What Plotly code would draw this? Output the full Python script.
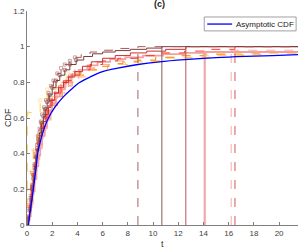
import plotly.graph_objects as go

# ---------------- data ----------------
x_max = 21.5
x_ticks = [0, 2, 4, 6, 8, 10, 12, 14, 16, 18, 20]
y_ticks = [0, 0.2, 0.4, 0.6, 0.8, 1.0, 1.2]
y_tick_labels = ["0", "0.2", "0.4", "0.6", "0.8", "1", "1.2"]

# asymptotic CDF
asym_t = [0.1, 0.3, 0.5, 0.7, 0.85, 1.1, 1.4, 1.7, 2.2, 2.9, 3.5, 4.2, 5.0, 6.0, 7.2, 8.8, 10.5, 12.5, 15, 17.3, 19.5, 21.5]
asym_F = [0, 0.1, 0.2, 0.31, 0.4, 0.48, 0.55, 0.6, 0.66, 0.72, 0.76, 0.8, 0.83, 0.86, 0.88, 0.9, 0.915, 0.927, 0.938, 0.945, 0.95, 0.955]

# empirical CDFs (step curves)
c1_t = [0, 0.1, 0.2, 0.3, 0.4, 0.5, 0.6, 0.7, 0.8, 0.9, 1.0, 1.15, 1.3, 1.45, 1.6, 1.8, 2.0, 2.3, 2.6, 3.0, 3.4, 3.9, 4.5, 5.2, 6.0, 7.0, 8.2, 9.5, 10.7]
c1_F = [0, 0.03, 0.08, 0.14, 0.2, 0.26, 0.32, 0.38, 0.43, 0.48, 0.52, 0.57, 0.61, 0.65, 0.69, 0.73, 0.77, 0.81, 0.84, 0.87, 0.9, 0.925, 0.945, 0.96, 0.97, 0.978, 0.985, 0.992, 1.0]

c2_t = [0, 0.1, 0.2, 0.3, 0.4, 0.5, 0.6, 0.7, 0.8, 0.9, 1.0, 1.1, 1.2, 1.35, 1.5, 1.7, 1.9, 2.1, 2.4, 2.7, 3.0, 3.4, 3.8, 4.3, 5.0, 5.8, 6.8, 8.8]
c2_F = [0, 0.04, 0.09, 0.15, 0.21, 0.28, 0.34, 0.4, 0.45, 0.5, 0.54, 0.58, 0.62, 0.66, 0.7, 0.74, 0.78, 0.81, 0.85, 0.88, 0.9, 0.92, 0.94, 0.955, 0.97, 0.98, 0.99, 1.0]

c3_t = [0, 0.1, 0.2, 0.3, 0.4, 0.5, 0.6, 0.7, 0.8, 0.9, 1.0, 1.15, 1.3, 1.5, 1.7, 1.9, 2.2, 2.5, 2.9, 3.3, 3.8, 4.4, 5.1, 6.0, 7.0, 8.2, 9.5, 11.0, 12.6]
c3_F = [0, 0.04, 0.1, 0.16, 0.22, 0.28, 0.33, 0.38, 0.42, 0.46, 0.5, 0.54, 0.58, 0.62, 0.66, 0.7, 0.74, 0.77, 0.8, 0.83, 0.86, 0.89, 0.915, 0.935, 0.95, 0.965, 0.975, 0.985, 1.0]

c4_t = [0, 0.15, 0.3, 0.45, 0.6, 0.75, 0.9, 1.05, 1.2, 1.4, 1.6, 1.8, 2.0, 2.3, 2.6, 3.0, 3.5, 4.1, 4.8, 5.6, 6.6, 7.8, 9.2, 10.8, 12.5, 14.1]
c4_F = [0, 0.05, 0.12, 0.19, 0.26, 0.33, 0.39, 0.45, 0.5, 0.55, 0.6, 0.64, 0.68, 0.72, 0.76, 0.8, 0.84, 0.87, 0.895, 0.915, 0.93, 0.94, 0.95, 0.958, 0.965, 0.97]

c5_t = [0, 0.1, 0.25, 0.4, 0.55, 0.7, 0.85, 1.0, 1.2, 1.4, 1.6, 1.9, 2.2, 2.6, 3.0, 3.5, 4.1, 4.8, 5.6, 6.6, 7.8, 9.2, 10.8, 12.6, 14.4, 16.2]
c5_F = [0, 0.04, 0.1, 0.17, 0.24, 0.31, 0.37, 0.43, 0.49, 0.54, 0.59, 0.64, 0.69, 0.74, 0.78, 0.82, 0.855, 0.88, 0.9, 0.92, 0.935, 0.948, 0.958, 0.966, 0.973, 0.98]

c6_t = [0, 0.1, 0.2, 0.3, 0.4, 0.5, 0.6, 0.7, 0.8, 0.9, 1.0, 1.2, 1.4, 1.6, 1.8, 2.0, 2.3, 2.7, 3.1, 3.6, 4.2, 5.0, 6.0, 7.2, 8.8, 10.5, 12.5, 14.5, 16.5]
c6_F = [0, 0.05, 0.11, 0.17, 0.23, 0.29, 0.34, 0.38, 0.42, 0.46, 0.5, 0.55, 0.6, 0.64, 0.67, 0.7, 0.74, 0.78, 0.81, 0.84, 0.87, 0.9, 0.92, 0.935, 0.95, 0.965, 0.975, 0.985, 1.0]

c7_t = [0, 0.1, 0.2, 0.35, 0.5, 0.65, 0.8, 1.0, 1.2, 1.4, 1.7, 2.0, 2.4, 2.8, 3.3, 3.9, 4.6, 5.5, 6.5, 7.6, 8.8, 10.2, 12.0, 14.0, 16.5, 19.0]
c7_F = [0, 0.05, 0.12, 0.2, 0.28, 0.35, 0.41, 0.47, 0.52, 0.57, 0.62, 0.67, 0.72, 0.76, 0.8, 0.84, 0.87, 0.89, 0.905, 0.915, 0.925, 0.94, 0.95, 0.958, 0.965, 0.97]

c8_t = [0, 0.03, 1.05, 1.6, 2.3, 3.2, 4.3, 5.8, 7.8, 10.5, 14, 18]
c8_F = [0, 0.63, 0.7, 0.76, 0.81, 0.85, 0.88, 0.9, 0.915, 0.935, 0.95, 0.962]

c9_t = [0, 0.02, 0.3, 0.5, 0.8, 1.1, 1.5, 2.0, 2.7, 3.6, 4.8, 6.4, 8.5, 11, 14.5, 19]
c9_F = [0, 0.2, 0.3, 0.42, 0.5, 0.58, 0.65, 0.72, 0.78, 0.83, 0.87, 0.9, 0.92, 0.94, 0.955, 0.965]

# vertical marker lines
vline_x = [8.8, 10.7, 12.6, 14.1, 16.2, 16.5]
vline_top = [1.0, 1.0, 1.0, 0.97, 0.98, 1.0]

# ---------------- styles ----------------
curves = [
    (c9_t, c9_F, "#ffb44a", "dash", 1.0, "cross-thin-open"),
    (c8_t, c8_F, "#ffd66b", "dash", 1.2, "square-open"),
    (c7_t, c7_F, "#ff9a30", "dash", 1.2, "cross-thin-open"),
    (c5_t, c5_F, "#f7b0b0", "dash", 1.2, "square-open"),
    (c4_t, c4_F, "#f2a0a0", "solid", 1.8, "square-open"),
    (c6_t, c6_F, "#ff3a3a", "dash", 1.0, "cross-thin-open"),
    (c3_t, c3_F, "#c83030", "solid", 1.0, "cross-thin-open"),
    (c1_t, c1_F, "#7a3c3c", "solid", 1.0, "square-open"),
    (c2_t, c2_F, "#a55a5a", "dash", 1.0, "square-open"),
]
vline_styles = [
    ("#a86060", "dash", 1.0),
    ("#8a5a5a", "solid", 1.0),
    ("#b85858", "solid", 1.0),
    ("#f2a8a8", "solid", 2.2),
    ("#f7baba", "dash", 1.2),
    ("#d05a5a", "dash", 1.0),
]
marker_t_limit = 4.0

fig = go.Figure()

for t, F, col, dash, w, sym in curves:
    fig.add_trace(go.Scatter(
        x=t + [x_max], y=F + [F[-1]], mode="lines", line_shape="hv",
        line=dict(color=col, dash=dash, width=w), showlegend=False, hoverinfo="skip"))
    mx = [a for a in t[1:] if a < marker_t_limit]
    my = [b for a, b in zip(t[1:], F[1:]) if a < marker_t_limit]
    fig.add_trace(go.Scatter(
        x=mx, y=my, mode="markers",
        marker=dict(symbol=sym, size=3, color=col, line=dict(color=col, width=0.7)),
        opacity=0.8, showlegend=False, hoverinfo="skip"))

for vx, vt, (col, dash, w) in zip(vline_x, vline_top, vline_styles):
    fig.add_trace(go.Scatter(x=[vx, vx], y=[0, vt], mode="lines",
                             line=dict(color=col, dash=dash, width=w),
                             showlegend=False, hoverinfo="skip"))

fig.add_trace(go.Scatter(x=asym_t, y=asym_F, mode="lines", line_shape="spline",
                         line=dict(color="#0000ff", width=1.3),
                         name="Asymptotic CDF", showlegend=False, hoverinfo="skip"))

axis_col = "#808080"
tick_font = dict(family="Liberation Sans, Arial, sans-serif", size=8, color="#404040")

fig.update_layout(
    width=299, height=250,
    margin=dict(l=27, r=1, t=11, b=25, autoexpand=False),
    paper_bgcolor="white", plot_bgcolor="white",
    xaxis=dict(range=[0, x_max], tickvals=x_ticks, ticks="inside", ticklen=3,
               tickcolor=axis_col, showline=True, linecolor=axis_col, linewidth=1,
               showgrid=False, zeroline=False, tickfont=tick_font, mirror=False,
               automargin=False),
    yaxis=dict(range=[0, 1.2], tickvals=y_ticks, ticktext=y_tick_labels, ticks="inside",
               ticklen=3, tickcolor=axis_col, showline=True, linecolor=axis_col, linewidth=1,
               showgrid=False, zeroline=False, tickfont=tick_font, mirror=False,
               automargin=False),
    font=dict(family="Liberation Sans, Arial, sans-serif"),
)

# title and axis labels
fig.add_annotation(text="<b>(c)</b>", x=0.49, y=1.0, xref="paper", yref="paper",
                   xanchor="center", yanchor="bottom", showarrow=False,
                   font=dict(size=9, color="#202020"))
fig.add_annotation(text="CDF", x=-0.07, y=0.5, xref="paper", yref="paper",
                   xanchor="center", yanchor="middle",
                   textangle=-90, showarrow=False, font=dict(size=9, color="#303030"))
fig.add_annotation(text="t", x=0.5, y=-0.089, xref="paper", yref="paper",
                   xanchor="center", yanchor="middle",
                   showarrow=False, font=dict(size=9, color="#303030"))

# legend (drawn manually for exact sizing)
fig.add_shape(type="rect", xref="paper", yref="paper", x0=0.654, x1=0.993, y0=0.907, y1=0.972,
              line=dict(color="#a0a0a0", width=1), fillcolor="white", layer="above")
fig.add_shape(type="line", xref="paper", yref="paper", x0=0.665, x1=0.757, y0=0.939, y1=0.939,
              line=dict(color="#0000ff", width=1.3), layer="above")
fig.add_annotation(text="Asymptotic CDF", x=0.765, y=0.939, xref="paper", yref="paper",
                   xanchor="left", yanchor="middle", showarrow=False,
                   font=dict(size=8, color="#202020"))

fig.write_html("out.html", config={"displayModeBar": False},
               post_script="document.body.style.margin='0';document.body.style.overflow='hidden';")
